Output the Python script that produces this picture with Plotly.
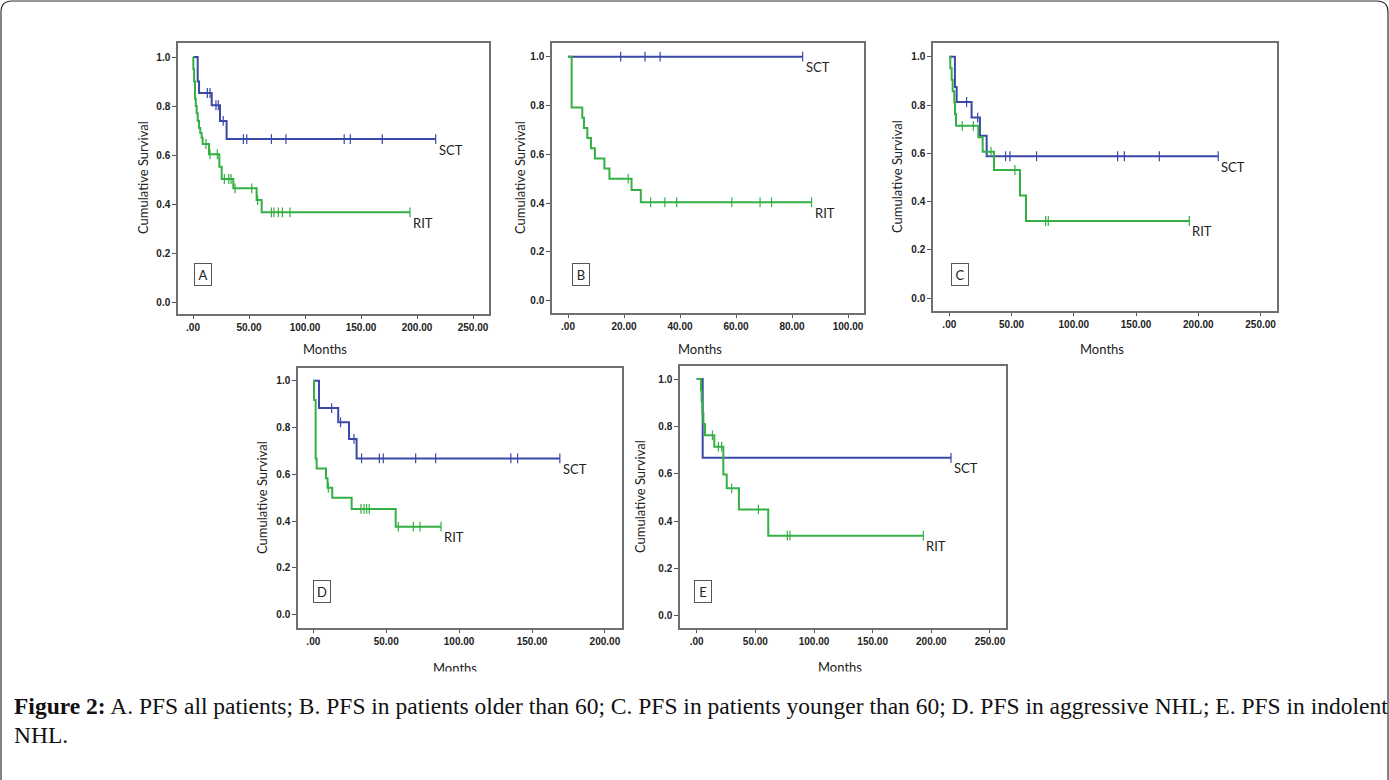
import plotly.graph_objects as go

W, H = 1389, 780
BLUE = "#3a48a6"
GREEN = "#34b044"

# ---------------- data (months, cumulative survival) ----------------
# Panel A: PFS all patients
A_SCT_T = [0, 4.2, 5.4, 16.7, 24.1, 30.0]
A_SCT_S = [1.0, 0.900, 0.853, 0.803, 0.739, 0.665]
A_SCT_CENS = [12.8, 15.2, 20.5, 22.6, 27.0, 45.0, 48.0, 70.0, 83.0, 135.0, 140.5, 169.0, 216.7]
A_RIT_T = [0, 0.3, 1.0, 1.8, 2.5, 3.3, 4.2, 5.4, 6.5, 7.7, 8.6, 14.3, 23.5, 25.6, 36.0, 56.8, 61.3]
A_RIT_S = [1.0, 0.95, 0.90, 0.83, 0.80, 0.77, 0.74, 0.71, 0.69, 0.67, 0.645, 0.603, 0.552, 0.502, 0.464, 0.416, 0.366]
A_RIT_CENS = [11.6, 15.2, 21.7, 28.0, 32.0, 34.0, 37.5, 52.4, 57.7, 70.0, 72.3, 76.2, 79.8, 86.6, 193.75]

# Panel B: PFS in patients older than 60
B_SCT_T = [0]
B_SCT_S = [1.0]
B_SCT_CENS = [18.8, 27.5, 32.9, 83.8]
B_RIT_T = [0, 1.3, 5.1, 5.7, 6.9, 8.2, 9.6, 13.0, 14.8, 22.7, 26.0]
B_RIT_S = [1.0, 0.792, 0.750, 0.708, 0.667, 0.625, 0.583, 0.542, 0.500, 0.454, 0.403]
B_RIT_CENS = [21.5, 29.5, 34.6, 38.8, 58.5, 68.6, 72.7, 87.0]

# Panel C: PFS in patients younger than 60
C_SCT_T = [0, 4.5, 5.9, 17.9, 24.6, 30.0]
C_SCT_S = [1.0, 0.875, 0.8125, 0.748, 0.673, 0.588]
C_SCT_CENS = [13.9, 22.8, 45.2, 48.7, 70.1, 135.2, 140.6, 168.7, 216.0]
C_RIT_T = [0, 0.8, 1.9, 2.7, 4.0, 4.6, 5.4, 23.3, 26.8, 35.9, 56.8, 61.6]
C_RIT_S = [1.0, 0.952, 0.905, 0.857, 0.810, 0.762, 0.714, 0.667, 0.607, 0.531, 0.425, 0.320]
C_RIT_CENS = [10.4, 19.3, 33.5, 52.7, 77.4, 79.5, 192.8]

# Panel D: PFS in aggressive NHL
D_SCT_T = [0, 3.9, 17.1, 24.5, 29.7]
D_SCT_S = [1.0, 0.883, 0.822, 0.751, 0.668]
D_SCT_CENS = [12.6, 18.7, 27.9, 33.1, 45.3, 48.0, 70.2, 83.9, 135.5, 140.1, 169.1]
D_RIT_T = [0, 0.5, 1.6, 2.3, 8.7, 9.8, 13.0, 26.3, 56.5]
D_RIT_S = [1.0, 0.917, 0.667, 0.625, 0.583, 0.542, 0.500, 0.452, 0.376]
D_RIT_CENS = [10.3, 32.7, 34.8, 36.6, 38.4, 58.3, 68.6, 73.2, 87.6]

# Panel E: PFS in indolent NHL
E_SCT_T = [0, 5.1]
E_SCT_S = [1.0, 0.667]
E_SCT_CENS = [216.8]
E_RIT_T = [0, 3.7, 4.2, 4.8, 5.7, 7.1, 15.0, 22.7, 25.6, 36.0, 61.0]
E_RIT_S = [1.0, 0.952, 0.905, 0.857, 0.810, 0.762, 0.714, 0.597, 0.538, 0.449, 0.338]
E_RIT_CENS = [13.4, 18.5, 21.3, 29.8, 52.6, 77.3, 79.5, 193.2]

X_TICKS_250 = [0, 50, 100, 150, 200, 250]
X_TICKS_100 = [0, 20, 40, 60, 80, 100]
X_TICKS_200 = [0, 50, 100, 150, 200]
Y_TICKS = [0.0, 0.2, 0.4, 0.6, 0.8, 1.0]

PANEL_LETTERS = ["A", "B", "C", "D", "E"]
CAPTION_BOLD = "Figure 2:"
CAPTION_LINE1 = (" A. PFS all patients; B. PFS in patients older than 60; C. PFS in patients "
                 "younger than 60; D. PFS in aggressive NHL; E. PFS in indolent")
CAPTION_LINE2 = "NHL."

DATA = {
    "A": (A_SCT_T, A_SCT_S, A_SCT_CENS, A_RIT_T, A_RIT_S, A_RIT_CENS, X_TICKS_250),
    "B": (B_SCT_T, B_SCT_S, B_SCT_CENS, B_RIT_T, B_RIT_S, B_RIT_CENS, X_TICKS_100),
    "C": (C_SCT_T, C_SCT_S, C_SCT_CENS, C_RIT_T, C_RIT_S, C_RIT_CENS, X_TICKS_250),
    "D": (D_SCT_T, D_SCT_S, D_SCT_CENS, D_RIT_T, D_RIT_S, D_RIT_CENS, X_TICKS_200),
    "E": (E_SCT_T, E_SCT_S, E_SCT_CENS, E_RIT_T, E_RIT_S, E_RIT_CENS, X_TICKS_250),
}

# ---------------- layout geometry (pixels) ----------------
GEOM = {
    "A": dict(frame=(178, 43, 489, 314), x0=193.0, xppu=1.12, y0=302.0, yppu=245.0,
              ytitle=(143, 178), xtitle=(325, 349), box=(8.9, 0.112)),
    "B": dict(frame=(552, 43, 864, 313), x0=568.0, xppu=2.80, y0=300.7, yppu=244.0,
              ytitle=(520, 178), xtitle=(700, 349), box=(4.6, 0.107)),
    "C": dict(frame=(933, 43, 1277, 311), x0=949.3, xppu=1.245, y0=298.3, yppu=241.6,
              ytitle=(897, 177), xtitle=(1102, 349), box=(8.6, 0.099)),
    "D": dict(frame=(298, 368, 622, 628), x0=313.3, xppu=1.458, y0=614.7, yppu=234.0,
              ytitle=(262, 498), xtitle=(455, 668), box=(6.0, 0.099)),
    "E": dict(frame=(680, 366, 1006, 628), x0=696.7, xppu=1.173, y0=615.7, yppu=236.7,
              ytitle=(640, 497), xtitle=(840, 667), box=(5.4, 0.104)),
}

TICK_FONT = dict(family="Liberation Sans, Arial, sans-serif", size=10, color="#222", weight="bold")
LABEL_FONT = dict(family="Lato, Open Sans, sans-serif", size=13, color="#222")


def surv_at(ts, ss, t):
    val = ss[0]
    for ti, si in zip(ts, ss):
        if ti <= t:
            val = si
    return val


def fmt_tick(v):
    s = f"{v:.2f}"
    return s[1:] if s.startswith("0") else s


fig = go.Figure()
annotations = []

for i, key in enumerate(PANEL_LETTERS, 1):
    sct_t, sct_s, sct_c, rit_t, rit_s, rit_c, xticks = DATA[key]
    g = GEOM[key]
    l, t, r, b = g["frame"]
    xs = "" if i == 1 else str(i)
    xref, yref = "x" + xs, "y" + xs

    for name, ts, ss, cens, col in (("SCT", sct_t, sct_s, sct_c, BLUE),
                                    ("RIT", rit_t, rit_s, rit_c, GREEN)):
        end = max(cens)
        fig.add_trace(go.Scatter(
            x=list(ts) + [end], y=list(ss) + [ss[-1]], mode="lines",
            line=dict(color=col, width=2, shape="hv"), xaxis=xref, yaxis=yref,
            showlegend=False, hoverinfo="skip", name=name))
        fig.add_trace(go.Scatter(
            x=cens, y=[surv_at(ts, ss, c) for c in cens], mode="markers",
            marker=dict(symbol="line-ns-open", size=7, color=col,
                        line=dict(color=col, width=1.2)),
            xaxis=xref, yaxis=yref, showlegend=False, hoverinfo="skip", name=name))
        annotations.append(dict(
            x=end, y=ss[-1], xref=xref, yref=yref, text=name, showarrow=False,
            xanchor="left", yanchor="middle", xshift=1, yshift=-10.5, font=LABEL_FONT))

    xr = [(l - g["x0"]) / g["xppu"], (r - g["x0"]) / g["xppu"]]
    yr = [(g["y0"] - b) / g["yppu"], (g["y0"] - t) / g["yppu"]]
    axis_common = dict(showline=True, mirror=True, linecolor="#6f6f6f", linewidth=1.5,
                       showgrid=False, zeroline=False, ticks="outside", tickcolor="#555",
                       tickfont=TICK_FONT, fixedrange=True)
    fig.update_layout({
        "xaxis" + xs: dict(domain=[l / W, r / W], range=xr, anchor=yref,
                            tickvals=xticks, ticktext=[fmt_tick(v) for v in xticks],
                            ticklen=3, **axis_common),
        "yaxis" + xs: dict(domain=[1 - b / H, 1 - t / H], range=yr, anchor=xref,
                            tickvals=Y_TICKS, ticktext=[f"{v:.1f}" for v in Y_TICKS],
                            ticklen=4, **axis_common),
    })

    bx, by = g["box"]
    annotations.append(dict(x=bx, y=by, xref=xref, yref=yref, text=key, showarrow=False,
                            font=LABEL_FONT, bordercolor="#555", borderwidth=1, borderpad=1,
                            width=14, height=19, bgcolor="white"))
    tx, ty = g["ytitle"]
    annotations.append(dict(x=tx / W, y=1 - ty / H, xref="paper", yref="paper",
                            text="Cumulative Survival", textangle=-90, showarrow=False,
                            font=LABEL_FONT, xanchor="center", yanchor="middle"))
    mx, my = g["xtitle"]
    annotations.append(dict(x=mx / W, y=1 - my / H, xref="paper", yref="paper",
                            text="Months", showarrow=False, font=LABEL_FONT,
                            xanchor="center", yanchor="middle"))

# white strip clipping the lower row's axis titles (as in the source image)
annotations.append(dict(x=652 / W, y=1 - 671 / H, xref="paper", yref="paper", text=".",
                        showarrow=False, font=dict(color="white", size=10),
                        bgcolor="white", width=760, height=18, xanchor="center",
                        yanchor="top", borderpad=0))

# caption
CAP_FONT = dict(family="Liberation Serif, Times New Roman, serif", size=23.5, color="#111")
annotations.append(dict(x=12 / W, y=1 - 706 / H, xref="paper", yref="paper",
                        text=f"<b>{CAPTION_BOLD}</b>{CAPTION_LINE1}", showarrow=False,
                        xanchor="left", yanchor="middle", font=CAP_FONT))
annotations.append(dict(x=12 / W, y=1 - 735 / H, xref="paper", yref="paper",
                        text=CAPTION_LINE2, showarrow=False,
                        xanchor="left", yanchor="middle", font=CAP_FONT))


def px(x, y):
    return f"{x / W:.5f},{1 - y / H:.5f}"


border_path = (f"M {px(1, 780)} L {px(1, 12)} Q {px(1, 1)} {px(12, 1)} "
               f"L {px(1377, 1)} Q {px(1388, 1)} {px(1388, 12)} L {px(1388, 780)}")

fig.update_layout(
    width=W, height=H, autosize=False,
    margin=dict(l=0, r=0, t=0, b=0, pad=0),
    paper_bgcolor="white", plot_bgcolor="white",
    annotations=annotations,
    shapes=[dict(type="path", path=border_path, xref="paper", yref="paper",
                 line=dict(color="#333", width=1.2))],
    showlegend=False,
)

fig.write_html("out.html", config={"displayModeBar": False},
               post_script="document.body.style.margin='0';")
